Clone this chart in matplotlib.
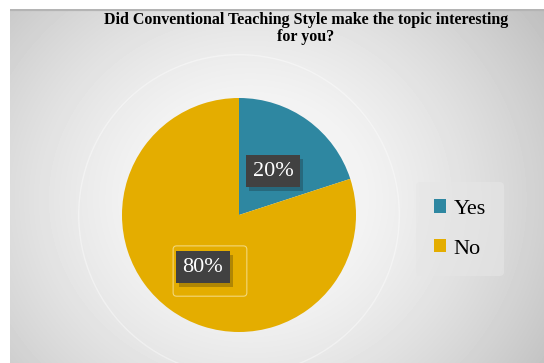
import numpy as np
import matplotlib.pyplot as plt
import matplotlib.patheffects as pe
from matplotlib.patches import Circle, FancyBboxPatch

labels = ["Yes", "No"]
shares = [20, 80]
colours = ["#2E87A1", "#E4AD00"]
title = "Did Conventional Teaching Style make the topic interesting\nfor you?"

W, H = 544, 363
fig = plt.figure(figsize=(W / 100, H / 100), dpi=100)
fig.patch.set_facecolor("white")

# chart area background: soft radial gradient
bg = fig.add_axes([10 / W, 0, (W - 10) / W, (H - 9) / H])
yy, xx = np.mgrid[0:354, 0:534]
r = np.hypot(xx - 240, (yy - 190) * 1.1) / 320
img = np.clip(0.99 - 0.2 * r ** 1.6, 0.74, 1)
bg.imshow(img, cmap="gray", vmin=0, vmax=1, aspect="auto", extent=(0, 534, 354, 0))
bg.axhline(0.5, color="#b4b4b4", lw=1.6)
bg.set_xlim(0, 534)
bg.set_ylim(354, 0)
bg.axis("off")

# pie axes, centre at (239, 215) px, radius 117 px
rad = 117
lim = 1.45
side = rad * lim * 2
ax = fig.add_axes([(239 - rad * lim) / W, (H - 215 - rad * lim) / H, side / W, side / H])
ax.add_patch(Circle((0, 0), 1.37, fill=False, ec="white", lw=1, alpha=0.4))
wedges, texts, autos = ax.pie(shares, colors=colours, startangle=90, counterclock=False,
                              autopct="%d%%", pctdistance=0.5,
                              textprops=dict(family="Liberation Serif", fontsize=16, color="white"))
ax.set_xlim(-lim, lim)
ax.set_ylim(-lim, lim)
ax.set_aspect("equal")
ax.axis("off")

autos[0].set_position((0.29, 0.375))
autos[1].set_position((-0.31, -0.445))
for t in autos:
    t.set_bbox(dict(boxstyle="square,pad=0.3", fc="#414141", ec="none"))
    t.get_bbox_patch().set_path_effects([pe.SimplePatchShadow(offset=(2.5, -3), alpha=0.25), pe.Normal()])
    t.set_zorder(5)
# selection outline around 80%
ax.add_patch(FancyBboxPatch((-0.533, -0.664), 0.57, 0.37, boxstyle="round,pad=0.03",
                            fc="none", ec="#f3d77a", lw=0.8, zorder=3))

fig.text(306 / W, 1 - 28.5 / H, title, ha="center", va="center", family="Liberation Serif",
         fontweight="bold", fontsize=11.5, linespacing=1.15)

leg = fig.legend(wedges, labels, loc="center", bbox_to_anchor=(460 / W, 1 - 229 / H),
                 frameon=True, prop=dict(family="Liberation Serif", size=16),
                 handlelength=0.55, handleheight=0.55, handletextpad=0.35,
                 labelspacing=0.9, borderpad=0.8)
leg.get_frame().set_facecolor("#e6e6e6")
leg.get_frame().set_edgecolor("none")
leg.get_frame().set_alpha(0.6)

fig.savefig("out.png", dpi=100)
